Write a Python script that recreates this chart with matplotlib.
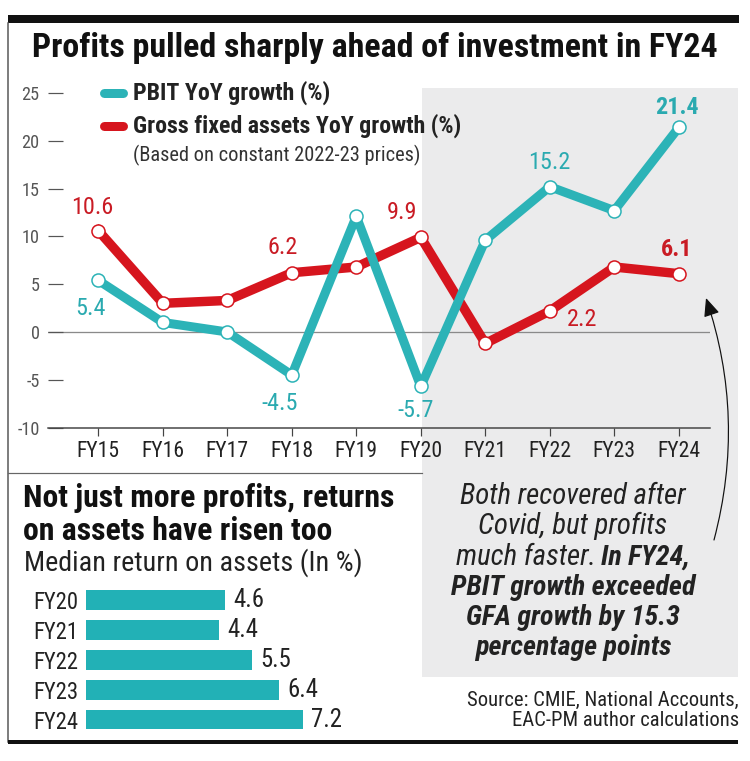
import matplotlib
matplotlib.use('Agg')
import matplotlib.pyplot as plt
from matplotlib import font_manager as fm
from matplotlib.lines import Line2D
from matplotlib.patches import Rectangle, FancyArrowPatch

# ---------------- data ----------------
years = ['FY15', 'FY16', 'FY17', 'FY18', 'FY19', 'FY20', 'FY21', 'FY22', 'FY23', 'FY24']
pbit = [5.4, 1.0, 0.0, -4.5, 12.1, -5.7, 9.6, 15.2, 12.7, 21.4]
gfa = [10.6, 3.0, 3.3, 6.2, 6.8, 9.9, -1.2, 2.2, 6.8, 6.1]
y_ticks = [-10, -5, 0, 5, 10, 15, 20, 25]
roa_years = ['FY20', 'FY21', 'FY22', 'FY23', 'FY24']
roa = [4.6, 4.4, 5.5, 6.4, 7.2]

title = 'Profits pulled sharply ahead of investment in FY24'
legend_labels = ['PBIT YoY growth (%)', 'Gross fixed assets YoY growth (%)']
legend_note = '(Based on constant 2022-23 prices)'
heading = ['Not just more profits, returns', 'on assets have risen too']
sub_heading = 'Median return on assets (In %)'
note_italic = ['Both recovered after', 'Covid, but profits', 'much faster.']
note_bold = ['In FY24,', 'PBIT growth exceeded', 'GFA growth by 15.3', 'percentage points']
source = ['Source: CMIE, National Accounts,', 'EAC-PM author calculations']

TEAL = '#2cb3b7'
RED = '#d6151e'
TEAL_TXT = '#2aaab0'
RED_TXT = '#c91b24'
BAR = '#22b1b6'
GREY_BOX = '#ebebec'

# ---------------- fonts ----------------
avail = {f.name for f in fm.fontManager.ttflist}
FONT = next(f for f in ['Roboto Condensed', 'Liberation Sans Narrow', 'Open Sans Condensed',
                        'Roboto', 'DejaVu Sans'] if f in avail or f == 'DejaVu Sans')
plt.rcParams['font.family'] = [FONT, 'DejaVu Sans']

W, H = 750, 761
PT = 72 / 100
fig = plt.figure(figsize=(W / 100, H / 100), dpi=100)
fig.patch.set_facecolor('white')
R = fig.canvas.get_renderer()


def fx(x):
    return x / W


def fy(y):
    return 1 - y / H


def size_for(s, width, **kw):
    t = fig.text(0, 0, s, fontsize=20, **kw)
    w = t.get_window_extent(R).width
    t.remove()
    return 20 * width / w


def ftext(x, y, s, size, **kw):
    kw.setdefault('va', 'baseline')
    return fig.text(fx(x), fy(y), s, fontsize=size, **kw)


def fline(xs, ys, **kw):
    fig.add_artist(Line2D([fx(v) for v in xs], [fy(v) for v in ys],
                          transform=fig.transFigure, **kw))


# ---------------- frame ----------------
fig.add_artist(Rectangle((fx(422), fy(677)), fx(738) - fx(422), fy(88) - fy(677),
                         transform=fig.transFigure, facecolor=GREY_BOX,
                         edgecolor='none', zorder=-5))
fline([8, 739], [19, 19], lw=8 * PT, color='#111', solid_capstyle='butt')
fline([8, 8], [23, 742], lw=1.5 * PT, color='#555')
fline([8, 738], [742, 742], lw=4 * PT, color='#111', solid_capstyle='butt')
fline([8, 422], [473, 473], lw=1.2 * PT, color='#666')

# ---------------- title ----------------
fs_title = size_for(title, 685, fontweight='bold')
ftext(375, 57, title, fs_title, ha='center', fontweight='bold', color='#111')

# ---------------- line chart ----------------
x0_px, dx_px = 98.3, 64.5
zero_px, dy_px = 332, 9.56
ax = fig.add_axes([fx(48), fy(427.6), fx(710) - fx(48), fy(88) - fy(427.6)])
ax.set_facecolor('none')
ax.set_xlim((48 - x0_px) / dx_px, (710 - x0_px) / dx_px)
ax.set_ylim(-10, (zero_px - 88) / dy_px)
for s in ['top', 'right', 'left']:
    ax.spines[s].set_visible(False)
ax.spines['bottom'].set_color('#444')
ax.spines['bottom'].set_linewidth(1.5 * PT)
ax.axhline(0, color='#8a8a8a', lw=1.3 * PT, zorder=1)

fs_ytick = size_for('25', 18)
fs_xtick = size_for('FY15', 43)
ax.set_yticks(y_ticks)
ax.set_yticklabels([str(v) for v in y_ticks])
ax.tick_params(axis='y', direction='in', length=15 * PT, width=1.2 * PT, color='#555',
               pad=6, labelsize=fs_ytick, labelcolor='#555')
xs = list(range(len(years)))
ax.set_xticks(xs)
ax.set_xticklabels(years)
ax.tick_params(axis='x', direction='out', length=8 * PT, width=1.2 * PT, color='#444',
               pad=4, labelsize=fs_xtick, labelcolor='#222')

ax.plot(xs, gfa, color=RED, lw=6.8, marker='o', ms=9.4, mfc='white', mec=RED,
        mew=1.1, zorder=3)
ax.plot(xs, pbit, color=TEAL, lw=6.5, marker='o', ms=9.4, mfc='white', mec=TEAL,
        mew=1.1, zorder=4)

fs_num = size_for('10.6', 42)
# (series, index, dx px, dy px up, bold)
labels = [
    (gfa, 0, -6, 23, False), (pbit, 0, -8, -28, False),
    (gfa, 3, -9, 25, False), (pbit, 3, -12, -28, False),
    (gfa, 5, -19, 25, False), (pbit, 5, -5, -24, False),
    (pbit, 7, 0, 24, False), (gfa, 7, 32, -9, False),
    (pbit, 9, -2, 20, True), (gfa, 9, -2, 24, True),
]
for series, i, ox, oy, bold in labels:
    col = TEAL_TXT if series is pbit else RED_TXT
    ax.annotate(f'{series[i]:.1f}', xy=(i, series[i]), xytext=(ox * PT, oy * PT),
                textcoords='offset points', ha='center', va='center', color=col,
                fontsize=fs_num, fontweight='bold' if bold else 'normal', zorder=5)

# legend (manual, figure coords)
fs_leg = size_for(legend_labels[1], 327, fontweight='bold')
for lab, col, yb, yc in [(legend_labels[0], TEAL, 100, 93), (legend_labels[1], RED, 133, 126)]:
    fline([104, 123], [yc, yc], lw=9 * PT, color=col, solid_capstyle='round')
    ftext(133, yb, lab, fs_leg, fontweight='bold', color='#222')
fs_note = size_for(legend_note, 287)
ftext(133, 161, legend_note, fs_note, color='#333')

# ---------------- bottom headings ----------------
fs_head = size_for(heading[0], 370, fontweight='bold')
ftext(23, 507, heading[0], fs_head, fontweight='bold', color='#111')
ftext(23, 540, heading[1], fs_head, fontweight='bold', color='#111')
fs_sub = size_for(sub_heading, 337)
ftext(24, 571, sub_heading, fs_sub, color='#222')

# ---------------- bar chart ----------------
bar_scale = (303 - 86) / 7.2
bx = fig.add_axes([fx(86), fy(734.5), fx(420) - fx(86), fy(585) - fy(734.5)])
bx.set_facecolor('none')
ypos = list(range(len(roa_years)))
bars = bx.barh(ypos, roa, height=0.66, color=BAR)
bx.set_xlim(0, (420 - 86) / bar_scale)
bx.set_ylim(len(roa_years) - 0.5, -0.5)
for s in bx.spines.values():
    s.set_visible(False)
bx.set_xticks([])
bx.set_yticks(ypos)
bx.set_yticklabels(roa_years)
fs_bar = size_for('FY20', 45)
bx.tick_params(axis='y', length=0, pad=8 * PT, labelsize=fs_bar, labelcolor='#222')
fs_barval = size_for('4.6', 31)
bx.bar_label(bars, labels=[f'{v:.1f}' for v in roa], padding=6, fontsize=fs_barval,
             color='#222')

# ---------------- annotation ----------------
cx = 573
fs_it = size_for(note_italic[0], 226, fontstyle='italic')
fs_bi = size_for(note_bold[1], 244, fontstyle='italic', fontweight='bold')
ftext(cx, 504, note_italic[0], fs_it, ha='center', fontstyle='italic', color='#222')
ftext(cx, 534, note_italic[1], fs_it, ha='center', fontstyle='italic', color='#222')
t1 = fig.text(0, 0, note_italic[2], fontsize=fs_it, fontstyle='italic')
w1 = t1.get_window_extent(R).width
t1.remove()
t2 = fig.text(0, 0, note_bold[0], fontsize=fs_bi, fontstyle='italic', fontweight='bold')
w2 = t2.get_window_extent(R).width
t2.remove()
gap = 5
start = cx - (w1 + gap + w2) / 2
ftext(start, 565, note_italic[2], fs_it, fontstyle='italic', color='#222')
ftext(start + w1 + gap, 565, note_bold[0], fs_bi, fontstyle='italic', fontweight='bold',
      color='#222')
for s, yb in zip(note_bold[1:], [595, 625, 655]):
    ftext(cx, yb, s, fs_bi, ha='center', fontstyle='italic', fontweight='bold', color='#222')

arrow = FancyArrowPatch((fx(714), fy(540)), (fx(706), fy(298)), transform=fig.transFigure,
                        connectionstyle='arc3,rad=0.15',
                        arrowstyle='-|>,head_length=0.8,head_width=0.35',
                        mutation_scale=14, color='#111', lw=1.2 * PT,
                        shrinkA=0, shrinkB=0)
fig.add_artist(arrow)

# ---------------- source ----------------
fs_src = size_for(source[0], 271)
ftext(739, 706, source[0], fs_src, ha='right', color='#222')
ftext(739, 726, source[1], fs_src, ha='right', color='#222')

fig.savefig('out.png', dpi=100)
